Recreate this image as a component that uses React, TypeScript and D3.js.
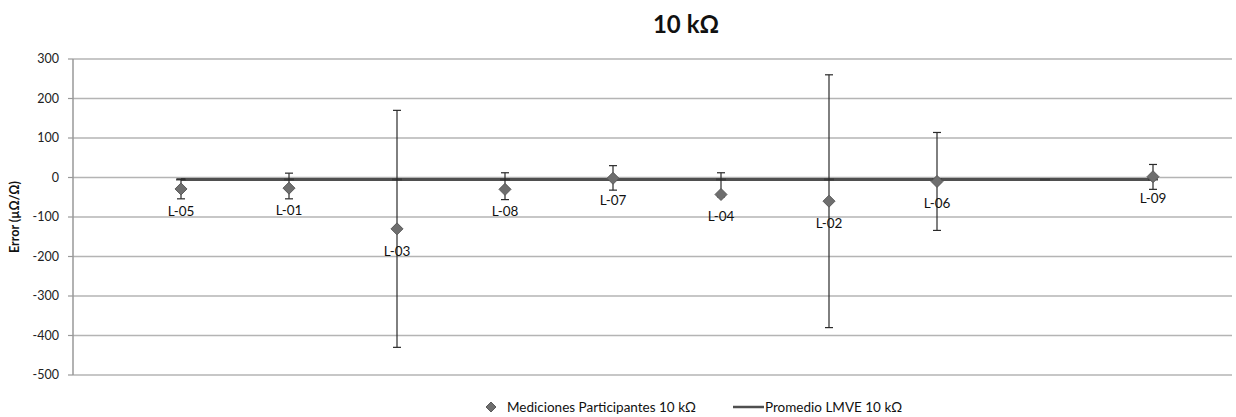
import React from "react";
import * as d3 from "d3";

const labels = ["L-05", "L-01", "L-03", "L-08", "L-07", "L-04", "L-02", "L-06", "L-09"];
const xPos = [1, 2, 3, 4, 5, 6, 7, 8, 10];
const values = [-29, -27, -130, -30, -2, -43, -60, -10, 2];
const errMinus = [25, 27, 300, 26, 30, 6, 320, 124, 32];
const errPlus = [25, 38, 300, 42, 32, 55, 320, 124, 31];
const meanX = [1, 2, 3, 4, 5, 6, 7, 8, 9, 10];
const meanValue = -5;
const meanErr = 1;
const yTicks = [300, 200, 100, 0, -100, -200, -300, -400, -500];
const title = "10 kΩ";
const yTitle = "Error (µΩ/Ω)";
const legendPoints = "Mediciones Participantes 10 kΩ";
const legendMean = "Promedio LMVE 10 kΩ";

const W = 1236;
const H = 417;
const left = 73;
const right = 1232;
const top = 59;
const bottom = 375;
const font = "Lato, 'Open Sans', sans-serif";

export default function App() {
  const x = d3.scaleLinear().domain([0, (right - left) / 108]).range([left, right]);
  const y = d3.scaleLinear().domain([-500, 300]).range([bottom, top]);
  const line = d3.line<number>().x((d) => x(d)).y(() => y(meanValue));
  const diamond = (cx: number, cy: number, r: number) =>
    `M${cx},${cy - r}L${cx + r},${cy}L${cx},${cy + r}L${cx - r},${cy}Z`;
  const cap = 4;

  return (
    <svg width={W} height={H} style={{ position: "absolute", left: 0, top: 0, background: "#fff" }}>
      <text x={686} y={33} textAnchor="middle" fontFamily={font} fontWeight="bold" fontSize={24} fill="#111">
        {title}
      </text>
      {yTicks.map((t) => (
        <g key={t}>
          <line x1={left} x2={right} y1={y(t)} y2={y(t)} stroke="#b4b4b4" strokeWidth={1.5} />
          <line x1={left - 5} x2={left} y1={y(t)} y2={y(t)} stroke="#999" strokeWidth={1.2} />
          <text x={59} y={y(t)} dy="0.35em" textAnchor="end" fontFamily={font} fontSize={12.5} fill="#222">
            {t}
          </text>
        </g>
      ))}
      <line x1={left} x2={left} y1={top} y2={bottom} stroke="#999" strokeWidth={1.5} />
      <text
        transform={`translate(19,${(top + bottom) / 2}) rotate(-90)`}
        textAnchor="middle"
        fontFamily={font}
        fontWeight="bold"
        fontSize={12.5}
        fill="#111"
      >
        {yTitle}
      </text>

      <path d={line([meanX[0], meanX[meanX.length - 1]]) || ""} stroke="#4f4f4f" strokeWidth={3} fill="none" />
      {meanX.map((m) => (
        <g key={m} stroke="#3a3a3a" strokeWidth={1.2}>
          <line x1={x(m) - 5} x2={x(m) + 5} y1={y(meanValue - meanErr)} y2={y(meanValue - meanErr)} />
          <line x1={x(m) - 5} x2={x(m) + 5} y1={y(meanValue + meanErr)} y2={y(meanValue + meanErr)} />
        </g>
      ))}

      {labels.map((lab, i) => {
        const cx = x(xPos[i]);
        const cy = y(values[i]);
        const y1 = y(values[i] + errPlus[i]);
        const y2 = y(values[i] - errMinus[i]);
        return (
          <g key={lab}>
            <line x1={cx} x2={cx} y1={y1} y2={y2} stroke="#2a2a2a" strokeWidth={1.2} />
            <line x1={cx - cap} x2={cx + cap} y1={y1} y2={y1} stroke="#2a2a2a" strokeWidth={1.2} />
            <line x1={cx - cap} x2={cx + cap} y1={y2} y2={y2} stroke="#2a2a2a" strokeWidth={1.2} />
            <path d={diamond(cx, cy, 6)} fill="#6e6e6e" stroke="#5a5a5a" strokeWidth={1} />
            <text x={cx} y={cy + 22} dy="0.35em" textAnchor="middle" fontFamily={font} fontSize={13.5} fill="#111">
              {lab}
            </text>
          </g>
        );
      })}

      <g>
        <path d={diamond(491, 407, 5)} fill="#6e6e6e" stroke="#5a5a5a" strokeWidth={1} />
        <text x={507} y={407} dy="0.35em" fontFamily={font} fontSize={13.5} fill="#111">
          {legendPoints}
        </text>
        <line x1={733} x2={764} y1={407} y2={407} stroke="#4f4f4f" strokeWidth={2.5} />
        <text x={765} y={407} dy="0.35em" fontFamily={font} fontSize={13.5} fill="#111">
          {legendMean}
        </text>
      </g>
    </svg>
  );
}
